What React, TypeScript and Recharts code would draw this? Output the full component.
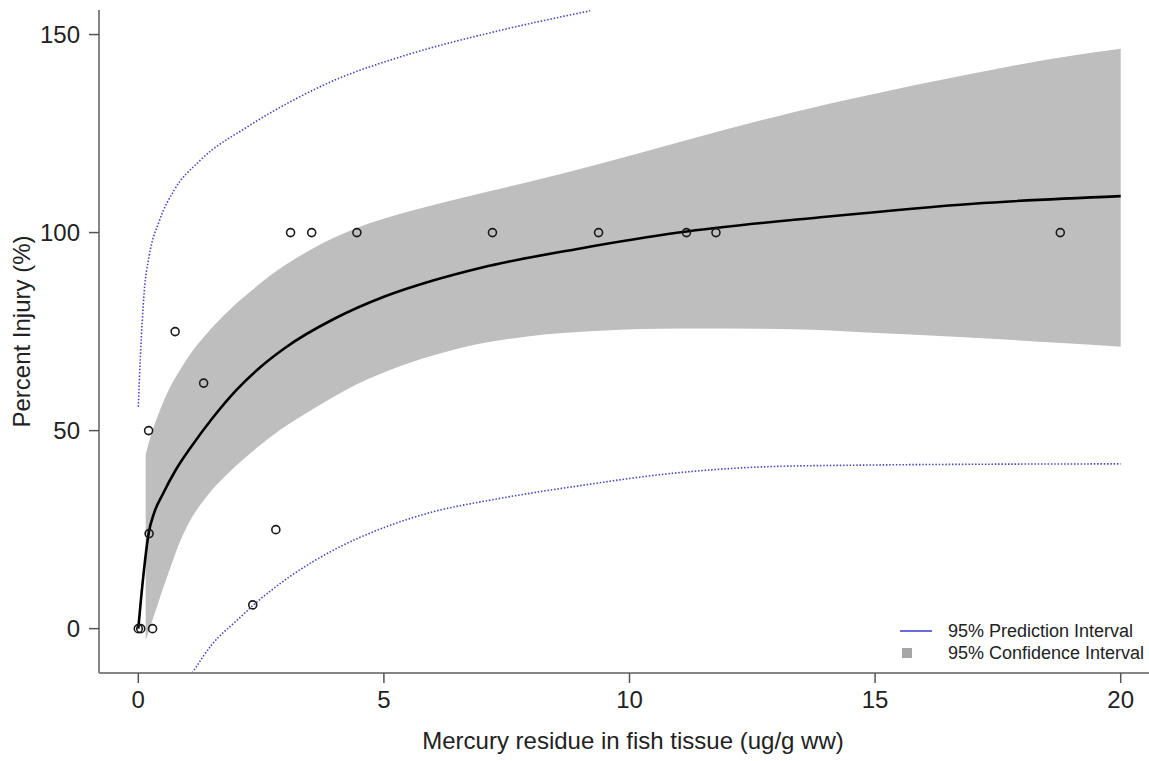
import React from "react";
import {
  ComposedChart,
  XAxis,
  YAxis,
  Line,
  Area,
  Scatter,
  Legend,
  Label,
} from "recharts";

// fitted curve
const fitX = [0, 0.1, 0.21, 0.33, 0.5, 0.75, 1.07, 1.5, 2, 2.5, 3, 4, 5, 6, 7, 9, 11, 14, 17, 20];
const fitY = [0, 13, 24, 29.5, 34, 39.8, 45.8, 53, 60.3, 66.2, 71, 78.3, 83.8, 87.9, 91.2, 96, 100, 104, 107.3, 109.2];

// 95% confidence band
const ciX = [0.15, 0.25, 0.36, 0.5, 0.67, 0.85, 1.0, 1.4, 1.85, 2.3, 2.87, 3.5, 4.42, 5.5, 6.6, 7.88, 9.4, 11.06, 13.34, 14.83, 16.81, 18.8, 20];
const ciUpper = [44, 48.5, 52.5, 57, 61.5, 65.3, 68.3, 74.6, 80.4, 85.3, 90.8, 95.6, 101, 105.3, 108.8, 112.6, 117.4, 123, 130.4, 134.6, 139.7, 144.3, 146.4];
const ciLower = [-3, 0.8, 4.8, 10, 16, 22, 26, 33.5, 39.5, 44.5, 50, 55, 61.5, 67, 71, 73.7, 75.2, 75.8, 75.6, 74.8, 73.6, 72.1, 71.2];

// 95% prediction interval
const piUpX = [0, 0.04, 0.12, 0.22, 0.43, 0.73, 1.24, 2.26, 3.21, 4, 5.32, 7.35, 9.2];
const piUpY = [56, 68, 85, 94, 103, 110.7, 118, 127, 133.8, 138.5, 144.3, 151, 156];
const piLoX = [1.1, 1.5, 2, 2.33, 3.08, 4, 5, 6, 7.19, 8.88, 10.86, 12.84, 14.83, 17, 20];
const piLoY = [-11.2, -4, 2, 5.8, 13.1, 20, 25.5, 29.5, 32.5, 35.9, 39.2, 40.9, 41.3, 41.5, 41.6];

// observations
const obsX = [0, 0.05, 0.29, 0.21, 0.22, 0.75, 1.33, 2.33, 2.8, 3.1, 3.53, 4.45, 7.21, 9.37, 11.16, 11.76, 18.77];
const obsY = [0, 0, 0, 50, 24, 75, 62, 6, 25, 100, 100, 100, 100, 100, 100, 100, 100];

const xTicks = [0, 5, 10, 15, 20];
const yTicks = [0, 50, 100, 150];

const fitData = fitX.map((x, i) => ({ x, y: fitY[i] }));
const ciData = ciX.map((x, i) => ({ x, band: [ciLower[i], ciUpper[i]] }));
const piUpData = piUpX.map((x, i) => ({ x, y: piUpY[i] }));
const piLoData = piLoX.map((x, i) => ({ x, y: piLoY[i] }));
const obsData = obsX.map((x, i) => ({ x, y: obsY[i] }));

const FONT = "'Liberation Sans', Arial, Helvetica, sans-serif";
const FRAME = "#858585";
const PI_COLOR = "#4747c2";

const OpenCircle = (props: any) => (
  <circle cx={props.cx} cy={props.cy} r={4} fill="none" stroke="#1a1a1a" strokeWidth={1.6} />
);

const LegendBox = () => (
  <div style={{ fontSize: 18, color: "#222", lineHeight: "22px", fontFamily: FONT }}>
    <div style={{ display: "flex", alignItems: "center" }}>
      <svg width={52} height={22}>
        <line x1={4} x2={36} y1={11} y2={11} stroke="#3a3ad0" strokeWidth={1.5} />
      </svg>
      <span>95% Prediction Interval</span>
    </div>
    <div style={{ display: "flex", alignItems: "center" }}>
      <svg width={52} height={22}>
        <rect x={6} y={6} width={10} height={10} fill="#a6a6a6" />
      </svg>
      <span>95% Confidence Interval</span>
    </div>
  </div>
);

const YTitle = (props: any) => {
  const vb = props.viewBox;
  const cx = 21;
  const cy = vb.y + vb.height / 2 - 10;
  return (
    <text
      x={cx}
      y={cy}
      transform={`rotate(-90 ${cx} ${cy})`}
      textAnchor="middle"
      dominantBaseline="central"
      fontSize={24}
      fill="#222"
      fontFamily={FONT}
    >
      Percent Injury (%)
    </text>
  );
};

const XTitle = (props: any) => {
  const vb = props.viewBox;
  return (
    <text
      x={633}
      y={vb.y + 67}
      textAnchor="middle"
      dominantBaseline="central"
      fontSize={24}
      fill="#222"
      fontFamily={FONT}
    >
      Mercury residue in fish tissue (ug/g ww)
    </text>
  );
};

export default function App() {
  return (
    <div
      style={{
        position: "fixed",
        left: 0,
        top: 0,
        width: 1149,
        height: 761,
        overflow: "hidden",
        background: "#fff",
        fontFamily: FONT,
      }}
    >
      <ComposedChart width={1200} height={761} margin={{ top: 10, right: 40, bottom: 0, left: 0 }}>
        <XAxis
          dataKey="x"
          type="number"
          domain={[-0.8, 20.8]}
          ticks={xTicks}
          allowDataOverflow
          height={88}
          axisLine={{ stroke: FRAME, strokeWidth: 2 }}
          tickLine={{ stroke: "#555", strokeWidth: 1.5 }}
          tickSize={10}
          tickMargin={8}
          tick={{ fontSize: 24, fill: "#222", fontFamily: FONT }}
        >
          <Label content={<XTitle />} />
        </XAxis>
        <XAxis
          xAxisId="top"
          orientation="top"
          type="number"
          domain={[-0.8, 20.8]}
          allowDataOverflow
          height={0}
          tick={false}
          tickLine={false}
          axisLine={{ stroke: FRAME, strokeWidth: 2 }}
        />
        <YAxis
          dataKey="y"
          type="number"
          domain={[-11.2, 156.2]}
          ticks={yTicks}
          allowDataOverflow
          width={99}
          axisLine={{ stroke: FRAME, strokeWidth: 2 }}
          tickLine={{ stroke: "#555", strokeWidth: 1.5 }}
          tickSize={10}
          tickMargin={9}
          tick={{ fontSize: 24, fill: "#222", fontFamily: FONT }}
        >
          <Label content={<YTitle />} />
        </YAxis>
        <Area
          data={ciData}
          dataKey="band"
          type="monotone"
          fill="#bebebe"
          fillOpacity={1}
          stroke="none"
          dot={false}
          activeDot={false}
          isAnimationActive={false}
        />
        <Line
          data={piUpData}
          dataKey="y"
          type="monotone"
          stroke={PI_COLOR}
          strokeWidth={1.6}
          strokeDasharray="1.5 1.8"
          dot={false}
          activeDot={false}
          isAnimationActive={false}
        />
        <Line
          data={piLoData}
          dataKey="y"
          type="monotone"
          stroke={PI_COLOR}
          strokeWidth={1.6}
          strokeDasharray="1.5 1.8"
          dot={false}
          activeDot={false}
          isAnimationActive={false}
        />
        <Line
          data={fitData}
          dataKey="y"
          type="monotone"
          stroke="#000"
          strokeWidth={2.6}
          dot={false}
          activeDot={false}
          isAnimationActive={false}
        />
        <Scatter data={obsData} dataKey="y" shape={<OpenCircle />} isAnimationActive={false} />
        <Legend
          layout="vertical"
          align="center"
          verticalAlign="middle"
          wrapperStyle={{ left: 896, top: 620, width: 260 }}
          content={() => <LegendBox />}
        />
      </ComposedChart>
    </div>
  );
}
